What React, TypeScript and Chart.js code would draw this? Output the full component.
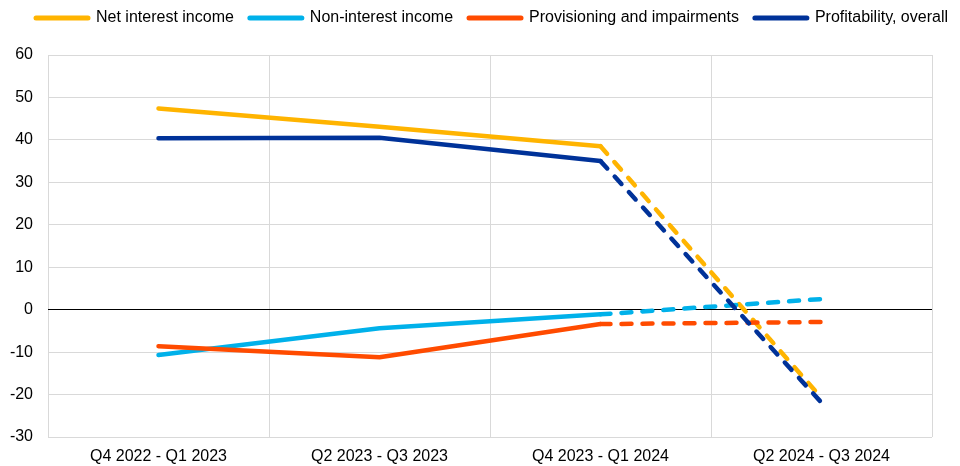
import React, { useEffect, useRef } from "react";
import { Chart, registerables } from "chart.js";

Chart.register(...registerables);

const categories = [
  "Q4 2022 - Q1 2023",
  "Q2 2023 - Q3 2023",
  "Q4 2023 - Q1 2024",
  "Q2 2024 - Q3 2024",
];
const netInterestIncome = [47.4, 43.1, 38.5, -20.8];
const nonInterestIncome = [-10.7, -4.4, -1.1, 2.5];
const provisioning = [-8.6, -11.2, -3.4, -2.9];
const profitability = [40.4, 40.5, 35.0, -21.9];

const seriesNames = [
  "Net interest income",
  "Non-interest income",
  "Provisioning and impairments",
  "Profitability, overall",
];
const seriesColors = ["#FFB400", "#00B1EA", "#FF4B00", "#003299"];

const yMin = -30;
const yMax = 60;
const yStep = 10;

const FONT = "'Liberation Sans', Arial, sans-serif";

export default function App() {
  const canvasRef = useRef<HTMLCanvasElement | null>(null);

  useEffect(() => {
    if (!canvasRef.current) return;
    const values = [netInterestIncome, nonInterestIncome, provisioning, profitability];
    const datasets = values.map((data, i) => ({
      label: seriesNames[i],
      data,
      borderColor: seriesColors[i],
      backgroundColor: seriesColors[i],
      borderWidth: 4.5,
      borderCapStyle: "round" as const,
      borderJoinStyle: "round" as const,
      pointRadius: 0,
      pointHoverRadius: 0,
      tension: 0,
      fill: false,
      order: 4 - i,
      segment: {
        borderDash: (ctx: any) => (ctx.p0DataIndex >= 2 ? [10, 11] : undefined),
      },
    }));

    const legendSpacer = {
      id: "legendSpacer",
      beforeLayout(chart: any) {
        const lg = chart.legend;
        if (lg && !lg.__patched) {
          const orig = lg.fit.bind(lg);
          lg.fit = function () {
            orig();
            this.height += 19;
          };
          lg.__patched = true;
        }
      },
      afterLayout(chart: any) {
        const lg = chart.legend;
        if (lg) {
          lg.left += 12;
          lg.right += 12;
        }
      },
    };

    const chart = new Chart(canvasRef.current, {
      type: "line",
      data: { labels: categories, datasets },
      plugins: [legendSpacer],
      options: {
        animation: false,
        responsive: true,
        maintainAspectRatio: false,
        layout: { padding: { top: -6, left: 0, right: 0, bottom: 0 } },
        font: { family: FONT },
        plugins: {
          tooltip: { enabled: false },
          legend: {
            position: "top",
            align: "center",
            labels: {
              usePointStyle: true,
              pointStyle: "line",
              pointStyleWidth: 52,
              padding: 16,
              color: "#000",
              font: { family: FONT, size: 16 },
              sort: (a: any, b: any) => a.datasetIndex - b.datasetIndex,
              generateLabels: (c: any) => {
                const items = Chart.defaults.plugins.legend.labels.generateLabels(c);
                return items.map((it: any) => ({
                  ...it,
                  lineWidth: 5,
                  lineCap: "round",
                  lineDash: [],
                  strokeStyle: seriesColors[it.datasetIndex],
                  fillStyle: seriesColors[it.datasetIndex],
                  pointStyle: "line",
                }));
              },
            },
          },
        },
        scales: {
          x: {
            type: "category",
            offset: true,
            grid: { offset: true, color: "#d9d9d9", lineWidth: 1, drawTicks: false },
            border: { display: false },
            ticks: {
              color: "#000",
              font: { family: FONT, size: 16 },
              padding: 10,
              maxRotation: 0,
              autoSkip: false,
            },
            afterFit: (s: any) => {
              s.height = 29;
            },
          },
          y: {
            min: yMin,
            max: yMax,
            grid: {
              color: (ctx: any) => (ctx.tick && ctx.tick.value === 0 ? "#000000" : "#d9d9d9"),
              lineWidth: 1,
              drawTicks: false,
            },
            border: { display: false },
            ticks: {
              stepSize: yStep,
              color: "#000",
              font: { family: FONT, size: 16 },
              padding: 15,
            },
            afterFit: (s: any) => {
              s.width = 48;
            },
          },
          yRight: {
            type: "linear",
            position: "right",
            min: yMin,
            max: yMax,
            grid: { drawOnChartArea: false, drawTicks: false },
            border: { display: false },
            ticks: { display: false },
            afterFit: (s: any) => {
              s.width = 28;
            },
          },
        },
      },
    });
    return () => chart.destroy();
  }, []);

  return (
    <div style={{ position: "absolute", left: 0, top: 0, width: 960, height: 466, background: "#fff" }}>
      <canvas ref={canvasRef} />
    </div>
  );
}
